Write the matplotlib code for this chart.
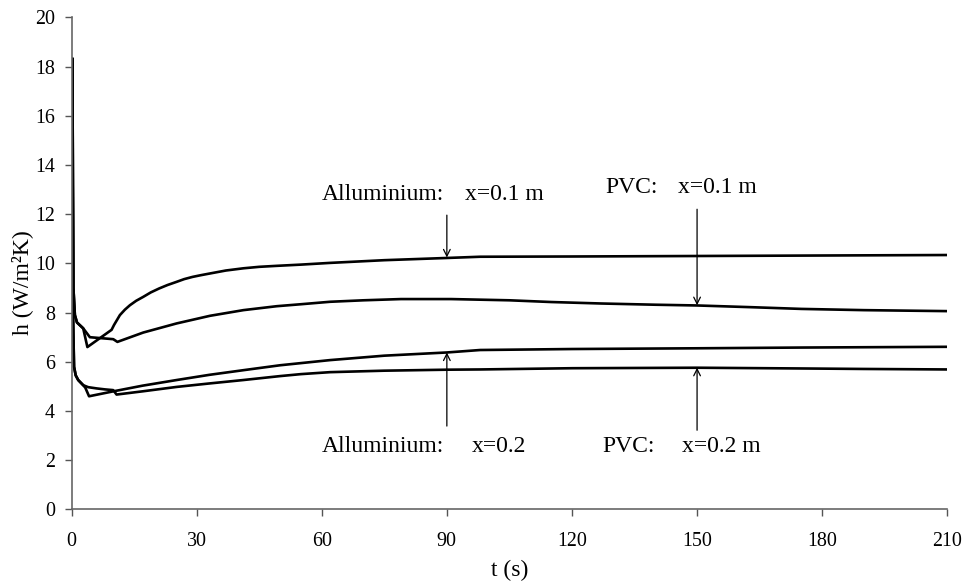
import matplotlib
matplotlib.use("Agg")
import matplotlib.pyplot as plt

# h(t) readings, W/m2K against seconds
t_alu_01 = [0.2, 0.45, 0.8, 1.3, 2.8, 3.8, 9.6, 10.2, 11.6, 12.8, 14, 15.5, 17.2, 19, 21, 23, 25.2,
            27, 29, 31, 33.2, 37, 41.2, 45, 49.2, 55, 62, 75, 90, 98, 120, 150, 180, 210]
h_alu_01 = [18.3, 9.0, 7.9, 7.6, 7.36, 6.6, 7.3, 7.5, 7.9, 8.12, 8.3, 8.48, 8.64, 8.82, 8.98, 9.12, 9.25,
            9.36, 9.45, 9.52, 9.59, 9.71, 9.8, 9.86, 9.9, 9.95, 10.02, 10.13, 10.22, 10.27, 10.28, 10.3, 10.32, 10.34]

t_pvc_01 = [0.2, 0.45, 0.8, 1.3, 2.8, 4.4, 10, 11, 17.2, 25.2, 33.2, 41.2, 49.2, 55, 62,
            70, 79, 91, 105, 115, 127, 140, 150, 163, 175, 190, 210]
h_pvc_01 = [18.3, 9.0, 7.9, 7.6, 7.36, 7.0, 6.92, 6.81, 7.19, 7.56, 7.87, 8.1, 8.26, 8.34, 8.44,
            8.5, 8.55, 8.55, 8.5, 8.43, 8.37, 8.32, 8.29, 8.22, 8.15, 8.1, 8.06]

t_alu_02 = [0.2, 0.35, 0.6, 1.0, 1.6, 2.8, 3.3, 4.2, 10, 17, 25.2, 33, 41.2, 50, 62,
            75, 90, 98, 120, 150, 175, 210]
h_alu_02 = [18.3, 8.0, 5.8, 5.45, 5.26, 5.05, 4.95, 4.6, 4.8, 5.03, 5.26, 5.47, 5.66, 5.86, 6.07,
            6.25, 6.38, 6.48, 6.52, 6.55, 6.58, 6.61]

t_pvc_02 = [0.2, 0.35, 0.6, 1.0, 1.6, 2.8, 4, 6, 8, 10, 10.8, 17, 25.2, 33, 41.2, 50, 55, 62,
            75, 90, 98, 120, 150, 175, 190, 210]
h_pvc_02 = [18.3, 8.0, 5.8, 5.45, 5.26, 5.05, 4.97, 4.92, 4.88, 4.85, 4.67, 4.8, 4.98, 5.12, 5.26, 5.42, 5.5, 5.58,
            5.64, 5.68, 5.69, 5.74, 5.76, 5.73, 5.71, 5.69]

x_ticks = [0, 30, 60, 90, 120, 150, 180, 210]
y_ticks = [0, 2, 4, 6, 8, 10, 12, 14, 16, 18, 20]

plt.rcParams['font.family'] = ['Liberation Serif', 'DejaVu Serif']

fig = plt.figure(figsize=(9.68, 5.84), dpi=100)
ax = fig.add_axes([0.0739, 0.1276, 0.9047, 0.8428])

for t, h in [(t_alu_01, h_alu_01), (t_pvc_01, h_pvc_01),
             (t_alu_02, h_alu_02), (t_pvc_02, h_pvc_02)]:
    ax.plot(t, h, color='black', lw=1.9, solid_joinstyle='round')

ax.set_xlim(0, 210)
ax.set_ylim(0, 20)
ax.set_xticks(x_ticks)
ax.set_yticks(y_ticks)
ax.tick_params(labelsize=14.4, direction='out', length=5, width=1, color='#555555')
ax.tick_params(axis='x', pad=11)
ax.tick_params(axis='y', pad=7)
for s in ['top', 'right']:
    ax.spines[s].set_visible(False)
for s in ['left', 'bottom']:
    ax.spines[s].set_color('#666666')
    ax.spines[s].set_linewidth(1.2)

ax.set_xlabel('t (s)', fontsize=17)
ax.xaxis.set_label_coords(0.5, -0.102)
ax.set_ylabel('h (W/m²K)', fontsize=17)
ax.yaxis.set_label_coords(-0.044, 0.46)

# (label, label x, second part, its x, text y, arrow x, arrow from y, arrow to y)
notes = [
    ('Alluminium:', 60, 'x=0.1 m', 94.3, 12.78, 90, 11.96, 10.24),
    ('PVC:', 128.1, 'x=0.1 m', 145.5, 13.09, 150, 12.2, 8.3),
    ('Alluminium:', 60, 'x=0.2', 95.9, 2.54, 90, 3.39, 6.38),
    ('PVC:', 127.4, 'x=0.2 m', 146.3, 2.57, 150, 3.22, 5.76),
]
for lab, lx, part, px, ty, axx, y0, y1 in notes:
    ax.text(lx, ty, lab, fontsize=17, va='center', ha='left')
    ax.text(px, ty, part, fontsize=17, va='center', ha='left')
    ax.annotate('', xy=(axx, y1), xytext=(axx, y0),
                arrowprops=dict(arrowstyle='->', lw=0.9, color='black',
                                shrinkA=0, shrinkB=0, mutation_scale=12))

fig.savefig('out.png', dpi=100)
